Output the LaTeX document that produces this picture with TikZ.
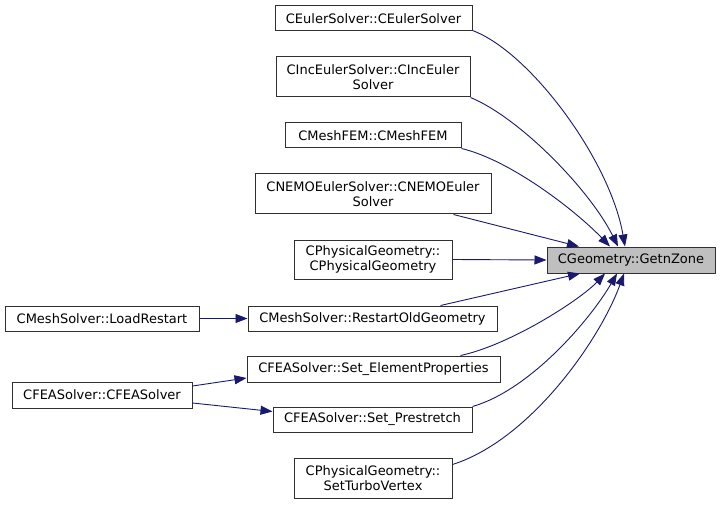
\documentclass[tikz,border=0pt]{standalone}
\usepackage{fontspec}
\setmainfont{DejaVu Sans}
\usetikzlibrary{arrows.meta}
\definecolor{edgeblue}{HTML}{191970}
\definecolor{boxline}{HTML}{303030}
\definecolor{tgtfill}{HTML}{BFBFBF}
\begin{document}
\begin{tikzpicture}[x=1pt,y=-1pt,
  box/.style={draw=boxline, line width=1pt, fill=white, inner sep=0pt, align=center,
    font=\fontsize{13}{15}\selectfont},
  edge/.style={draw=edgeblue, line width=0.9pt, -{Triangle[length=12pt,width=9pt]}}]
\fill[white] (0,0) rectangle (720,505);
\useasboundingbox (0,0) rectangle (720,505);
% nodes
\node[box, minimum width=197pt, minimum height=25pt] (n1) at (373.5,18.5) {CEulerSolver::CEulerSolver};
\node[box, minimum width=194pt, minimum height=40pt] (n2) at (373,77) {CIncEulerSolver::CIncEuler\\Solver};
\node[box, minimum width=176pt, minimum height=25pt] (n3) at (373,135.5) {CMeshFEM::CMeshFEM};
\node[box, minimum width=236pt, minimum height=40pt] (n4) at (373,194) {CNEMOEulerSolver::CNEMOEuler\\Solver};
\node[box, minimum width=158pt, minimum height=39pt] (n5) at (373,259.5) {CPhysicalGeometry::\\CPhysicalGeometry};
\node[box, minimum width=249pt, minimum height=25pt] (n6) at (372.5,318.5) {CMeshSolver::RestartOldGeometry};
\node[box, minimum width=253pt, minimum height=26pt] (n7) at (373.5,369) {CFEASolver::Set\_ElementProperties};
\node[box, minimum width=199pt, minimum height=25pt] (n8) at (372.5,419.5) {CFEASolver::Set\_Prestretch};
\node[box, minimum width=158pt, minimum height=40pt] (n9) at (373,478) {CPhysicalGeometry::\\SetTurboVertex};
\node[box, fill=tgtfill, minimum width=168pt, minimum height=26pt] (tgt) at (631,260) {CGeometry::GetnZone};
\node[box, minimum width=194pt, minimum height=25pt] (lr) at (102,318.5) {CMeshSolver::LoadRestart};
\node[box, minimum width=180pt, minimum height=26pt] (cf) at (102,395) {CFEASolver::CFEASolver};
% edges to target
\draw[edge] ([yshift=1pt]n1.south east) .. controls (530,52) and (610,160) .. ([xshift=-6pt]tgt.north);
\draw[edge] (n2.south east) .. controls (520,118) and (590,190) .. ([xshift=-13pt]tgt.north);
\draw[edge] (n3.south east) .. controls (510,160) and (575,210) .. ([xshift=-21pt]tgt.north);
\draw[edge] ([xshift=-38pt]n4.south east) -- ([xshift=-52pt]tgt.north);
\draw[edge] (n5.east) -- (tgt.west);
\draw[edge] ([xshift=-57pt]n6.north east) -- ([xshift=-51pt]tgt.south);
\draw[edge] ([xshift=-40pt]n7.north east) .. controls (510,345) and (580,300) .. ([xshift=-26pt]tgt.south);
\draw[edge] (n8.north east) .. controls (530,390) and (590,320) .. ([xshift=-14pt]tgt.south);
\draw[edge] ([yshift=-7pt]n9.north east) .. controls (530,440) and (600,340) .. ([xshift=-7pt]tgt.south);
% left edges
\draw[edge] (lr.east) -- (n6.west);
\draw[edge] ([yshift=9pt]cf.east) -- ([yshift=-9pt]n7.west);
\draw[edge] ([yshift=-8pt]cf.east) -- ([yshift=8pt]n8.west);
\end{tikzpicture}
\end{document}
